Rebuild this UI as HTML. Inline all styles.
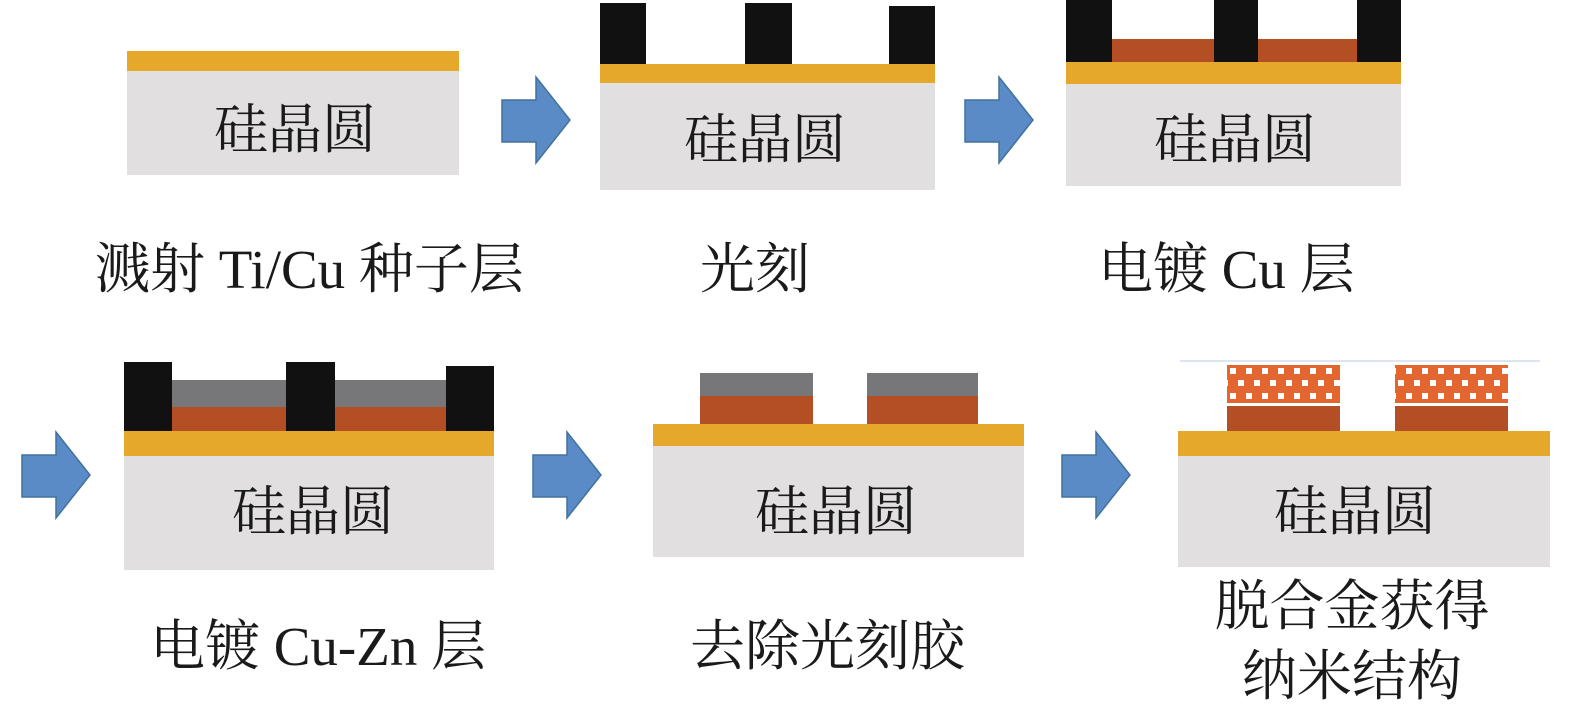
<!DOCTYPE html>
<html><head><meta charset="utf-8"><style>
html,body{margin:0;padding:0;background:#fff;}
svg{display:block}
text{font-family:"Liberation Serif","Noto Serif CJK SC",serif;fill:#1a1a1a}
</style></head><body>
<svg width="1575" height="711" viewBox="0 0 1575 711" xmlns="http://www.w3.org/2000/svg">
<defs>
<pattern id="chk" x="1227" y="365" width="16" height="25" patternUnits="userSpaceOnUse">
<rect width="16" height="25" fill="#E2662E"/>
<rect x="3" y="3" width="6" height="6" fill="#fff"/>
<rect x="11" y="15" width="6" height="6" fill="#fff"/>
<rect x="-5" y="15" width="6" height="6" fill="#fff"/>
</pattern>
<g id="arr"><path d="M0,23 H34 V0 L68,43 L34,86 V65 H0 Z" fill="#5A8BC6" stroke="#41719C" stroke-width="1.5"/></g>
</defs>

<rect x="127" y="51" width="332" height="20" fill="#E5A82A"/>
<rect x="127" y="71" width="332" height="104" fill="#E1DFE0"/>
<text x="295" y="148" font-size="54" text-anchor="middle">硅晶圆</text>

<use href="#arr" x="502" y="77"/>

<rect x="600" y="64" width="335" height="19" fill="#E5A82A"/>
<rect x="600" y="83" width="335" height="107" fill="#E1DFE0"/>
<rect x="600" y="3" width="46" height="61" fill="#111"/>
<rect x="745" y="3" width="47" height="61" fill="#111"/>
<rect x="889" y="6" width="46" height="58" fill="#111"/>
<text x="765" y="158" font-size="54" text-anchor="middle">硅晶圆</text>

<use href="#arr" x="965" y="77"/>

<rect x="1112" y="39" width="245" height="23" fill="#B34E25"/>
<rect x="1066" y="62" width="335" height="22" fill="#E5A82A"/>
<rect x="1066" y="84" width="335" height="102" fill="#E1DFE0"/>
<rect x="1066" y="0" width="46" height="62" fill="#111"/>
<rect x="1214" y="0" width="44" height="62" fill="#111"/>
<rect x="1357" y="0" width="44" height="62" fill="#111"/>
<text x="1235" y="158" font-size="54" text-anchor="middle">硅晶圆</text>

<text x="95" y="288" font-size="55">溅射 Ti/Cu 种子层</text>
<text x="700" y="288" font-size="55">光刻</text>
<text x="1098" y="288" font-size="55">电镀 Cu 层</text>

<use href="#arr" x="22" y="432"/>
<rect x="172" y="380" width="274" height="27" fill="#777779"/>
<rect x="172" y="407" width="274" height="24" fill="#B34E25"/>
<rect x="124" y="431" width="370" height="25" fill="#E5A82A"/>
<rect x="124" y="456" width="370" height="114" fill="#E1DFE0"/>
<rect x="124" y="362" width="48" height="69" fill="#111"/>
<rect x="286" y="362" width="49" height="69" fill="#111"/>
<rect x="446" y="366" width="48" height="65" fill="#111"/>
<text x="313" y="530" font-size="54" text-anchor="middle">硅晶圆</text>

<use href="#arr" x="533" y="432"/>
<rect x="700" y="373" width="113" height="23" fill="#777779"/>
<rect x="700" y="396" width="113" height="28" fill="#B34E25"/>
<rect x="867" y="373" width="111" height="23" fill="#777779"/>
<rect x="867" y="396" width="111" height="28" fill="#B34E25"/>
<rect x="653" y="424" width="371" height="22" fill="#E5A82A"/>
<rect x="653" y="446" width="371" height="111" fill="#E1DFE0"/>
<text x="836" y="530" font-size="54" text-anchor="middle">硅晶圆</text>

<use href="#arr" x="1062" y="432"/>
<line x1="1180" y1="361" x2="1540" y2="361" stroke="#DDE6F0" stroke-width="2"/>
<rect x="1227" y="365" width="113" height="38" fill="url(#chk)"/>
<rect x="1395" y="365" width="113" height="38" fill="url(#chk)"/>
<rect x="1227" y="406" width="113" height="26" fill="#B34E25"/>
<rect x="1395" y="406" width="113" height="26" fill="#B34E25"/>
<rect x="1178" y="431" width="372" height="25" fill="#E5A82A"/>
<rect x="1178" y="456" width="372" height="111" fill="#E1DFE0"/>
<text x="1355" y="530" font-size="54" text-anchor="middle">硅晶圆</text>

<text x="150" y="665" font-size="55">电镀 Cu-Zn 层</text>
<text x="690" y="665" font-size="55">去除光刻胶</text>
<text x="1352" y="625" font-size="55" text-anchor="middle">脱合金获得</text>
<text x="1352" y="695" font-size="55" text-anchor="middle">纳米结构</text>
</svg>
</body></html>
